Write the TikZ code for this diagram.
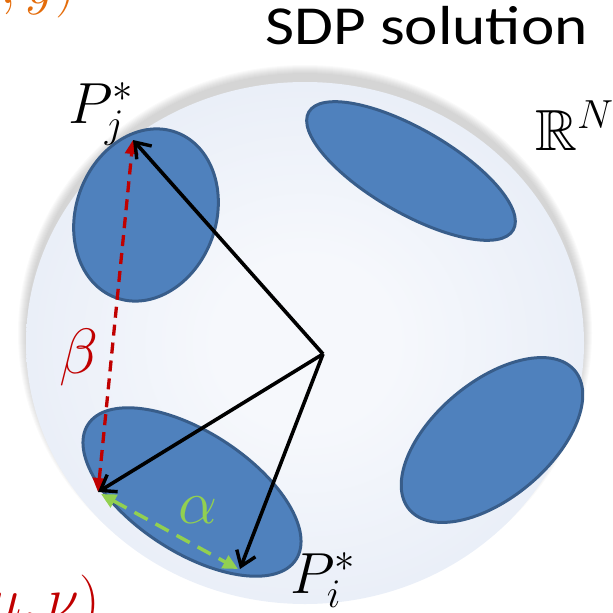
\RequirePackage{fix-cm}
\documentclass[tikz,border=0pt]{standalone}
\usepackage{amssymb}
\usepackage{fontspec}
\newfontfamily\calibri{Carlito}
\usetikzlibrary{arrows.meta}
\definecolor{blobfill}{HTML}{4F81BD}
\definecolor{blobline}{HTML}{385D8A}
\definecolor{redc}{HTML}{C00000}
\definecolor{greenc}{HTML}{92D050}
\definecolor{orangec}{HTML}{E46C0A}
\definecolor{sphin}{HTML}{F6F8FC}
\definecolor{sphout}{HTML}{D8E1F2}
\pgfdeclareradialshading{sphereshade}{\pgfpoint{0bp}{0bp}}{color(0bp)=(sphin); color(8bp)=(sphin); color(50bp)=(sphout); color(75bp)=(sphout)}
\begin{document}
\begin{tikzpicture}[x=1pt,y=-1pt,
  blob/.style={fill=blobfill, draw=blobline, line width=3pt},
  mathlbl/.style={inner sep=0pt, font=\fontsize{58}{70}\selectfont},
  blk/.style={draw=black, line width=3.6pt, -{Straight Barb[length=14pt,width=20pt,line width=3.4pt]}},
  reddash/.style={draw=redc, line width=3.3pt, dash pattern=on 11pt off 7pt, {Triangle[length=14pt,width=13pt]}-{Triangle[length=14pt,width=13pt]}},
  greendash/.style={draw=greenc, line width=3.5pt, dash pattern=on 15pt off 9pt, {Triangle[length=15pt,width=14pt]}-{Triangle[length=15pt,width=14pt]}}]
\useasboundingbox (0,0) rectangle (613,613);
\clip (0,0) rectangle (613,613);
% soft shadow (upper side)
\foreach \i in {1,...,9}
  \fill[black, opacity=0.02] (305,333) ellipse [x radius={278+\i*1.0}, y radius={259+\i*1.0}];
% sphere
\shade[shading=sphereshade] (305,343) ellipse [x radius=279, y radius=261];
% blobs
\begin{scope}[shift={(146,215)}, rotate=-20]
  \draw[blob] (0,0) ellipse [x radius=70, y radius=88];
\end{scope}
\begin{scope}[shift={(411,171)}, rotate=-30]
  \draw[blob] (0,0) ellipse [x radius=118, y radius=42];
\end{scope}
\begin{scope}[shift={(492,440)}, rotate=40]
  \draw[blob] (0,0) ellipse [x radius=108, y radius=58];
\end{scope}
\begin{scope}[shift={(192,492)}, rotate=-33]
  \draw[blob] (0,0) ellipse [x radius=124, y radius=60];
\end{scope}
% points
\coordinate (O) at (323,354);
\coordinate (Pj) at (133,140);
\coordinate (Q) at (98,492);
\coordinate (Pi) at (240,569);
\coordinate (Qg) at (101,494);
\coordinate (Pig) at (238,569);
% connectors
\draw[reddash] (Q) -- (Pj);
\draw[greendash] (Qg) -- (Pig);
\draw[blk] (O) -- (Pj);
\draw[blk] (O) -- (Q);
\draw[blk] (O) -- (Pi);
% labels
\node[mathlbl, anchor=base west] (lPj) at (68,123) {$P_j^*$};
\node[mathlbl, anchor=base west] (lPi) at (290,593) {$P_i^*$};
\node[mathlbl, text=redc, font=\fontsize{64}{76}\selectfont] (lbeta) at (79,357) {$\beta$};
\node[mathlbl, text=greenc, font=\fontsize{62}{74}\selectfont] (lalpha) at (198,510) {$\alpha$};
\node[mathlbl, anchor=base west] (lR) at (535,150) {$\mathbb{R}^N$};
\node[inner sep=0pt, anchor=base west, xscale=1.15, font=\calibri\fontsize{55}{66}\selectfont] (title) at (265,44) {SDP solution};
\node[mathlbl, anchor=base east, text=orangec] (top) at (76,3) {$(x,y)$};
\node[mathlbl, anchor=base east, text=redc] (bot) at (100,618) {$(\mu,\nu)$};
\end{tikzpicture}
\end{document}
